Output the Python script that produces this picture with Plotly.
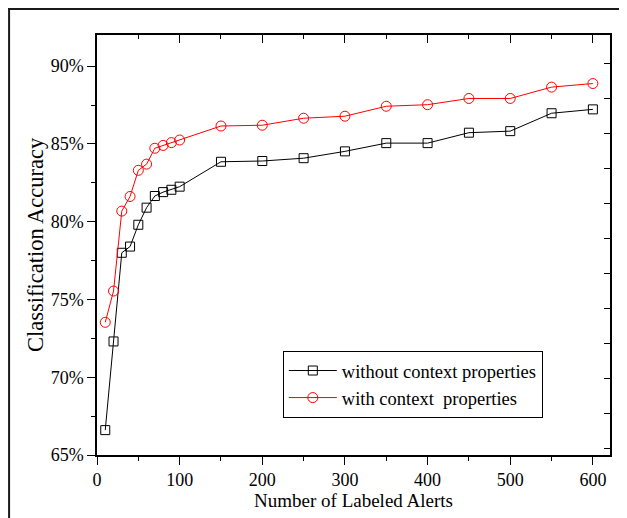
import plotly.graph_objects as go

labeled_alerts = [10, 20, 30, 40, 50, 60, 70, 80, 90, 100, 150, 200, 250, 300, 350, 400, 450, 500, 550, 600]
without_context = [66.6, 72.3, 78.0, 78.4, 79.8, 80.9, 81.65, 81.9, 82.05, 82.25, 83.85, 83.9, 84.08, 84.52, 85.05, 85.05, 85.72, 85.82, 86.97, 87.22]
with_context = [73.53, 75.54, 80.68, 81.62, 83.3, 83.7, 84.72, 84.9, 85.08, 85.25, 86.15, 86.2, 86.65, 86.78, 87.42, 87.52, 87.92, 87.92, 88.65, 88.88]
series_names = ["without context properties", "with context  properties"]
y_ticks = [65, 70, 75, 80, 85, 90]
y_tick_labels = ["65%", "70%", "75%", "80%", "85%", "90%"]
x_ticks = [0, 100, 200, 300, 400, 500, 600]

FONT = "Liberation Serif"

# page has an 8px body margin: figure coords = window coords - 8
W, H = 619, 510
L, R, T, B = 89, 16.5, 27, 63
PW, PH = W - L - R, H - T - B

fig = go.Figure()
fig.add_trace(go.Scatter(
    x=labeled_alerts, y=without_context, name=series_names[0], mode="lines+markers",
    line=dict(color="black", width=1),
    marker=dict(symbol="square-open", size=9, color="black", line=dict(width=1)),
))
fig.add_trace(go.Scatter(
    x=labeled_alerts, y=with_context, name=series_names[1], mode="lines+markers",
    line=dict(color="#ff0000", width=1),
    marker=dict(symbol="circle-open", size=10, color="#ff0000", line=dict(width=1)),
))
# empty trace to anchor the mirrored (top/right) axes
fig.add_trace(go.Scatter(x=[], y=[], xaxis="x2", yaxis="y2", showlegend=False, hoverinfo="skip"))

tick_font = dict(family=FONT, size=18, color="black")
title_font = dict(family=FONT, size=19, color="black")
ytitle_font = dict(family=FONT, size=22.5, color="black")

fig.update_layout(
    width=W, height=H,
    margin=dict(l=L, r=R, t=T, b=B, autoexpand=False),
    paper_bgcolor="white", plot_bgcolor="white",
    font=tick_font,
    showlegend=True,
    legend=dict(
        x=(275 - L) / PW, y=(447 - 343) / PH, xanchor="left", yanchor="top",
        bgcolor="white", bordercolor="black", borderwidth=1,
        font=dict(family=FONT, size=18.5, color="black"),
        tracegroupgap=0, itemwidth=48,
    ),
    xaxis=dict(
        range=[0, 620.7], tickvals=x_ticks, ticks="outside", ticklen=8, tickwidth=1.2,
        tickcolor="black", showline=True, linecolor="black", linewidth=1.5,
        showgrid=False, zeroline=False, automargin=False,
        minor=dict(dtick=50, tick0=0, ticks="outside", ticklen=4, tickwidth=1.2, tickcolor="black", showgrid=False),
        title=dict(text="Number of Labeled Alerts", font=title_font, standoff=0),
        tickfont=tick_font,
    ),
    yaxis=dict(
        range=[65, 92], tickvals=y_ticks, ticktext=y_tick_labels, ticks="outside", ticklen=8, tickwidth=1.2,
        tickcolor="black", showline=True, linecolor="black", linewidth=1.5,
        showgrid=False, zeroline=False, automargin=False,
        minor=dict(dtick=2.5, tick0=65, ticks="outside", ticklen=4, tickwidth=1.2, tickcolor="black", showgrid=False),
        tickfont=tick_font,
    ),
    xaxis2=dict(
        overlaying="x", side="top", range=[0, 620.7], tickvals=x_ticks, ticks="inside", ticklen=8,
        tickwidth=1.2, tickcolor="black", showticklabels=False, showline=True, linecolor="black",
        linewidth=1.5, showgrid=False, zeroline=False, automargin=False,
        minor=dict(dtick=50, tick0=0, ticks="inside", ticklen=4, tickwidth=1.2, tickcolor="black", showgrid=False),
    ),
    yaxis2=dict(
        overlaying="y", side="right", range=[0, 12], tickvals=[0.19 + k for k in range(12)],
        ticks="inside", ticklen=6, tickwidth=1.2, tickcolor="black", showticklabels=False,
        showline=True, linecolor="black", linewidth=1.5, showgrid=False, zeroline=False, automargin=False,
    ),
    annotations=[
        dict(text="Classification Accuracy", textangle=-90, xref="paper", yref="paper",
             x=(27 - L) / PW, y=(447 - 237) / PH, xanchor="center", yanchor="middle", showarrow=False,
             font=ytitle_font),
    ],
    shapes=[
        dict(type="line", xref="paper", yref="paper",
             x0=(1 - L) / PW, x1=(1 - L) / PW, y0=(447 - 0) / PH, y1=(447 - 530) / PH,
             line=dict(color="#1a1a1a", width=2)),
        dict(type="line", xref="paper", yref="paper",
             x0=(0 - L) / PW, x1=(640 - L) / PW, y0=(447 - 1) / PH, y1=(447 - 1) / PH,
             line=dict(color="#1a1a1a", width=2)),
    ],
)

fig.write_html("out.html")
